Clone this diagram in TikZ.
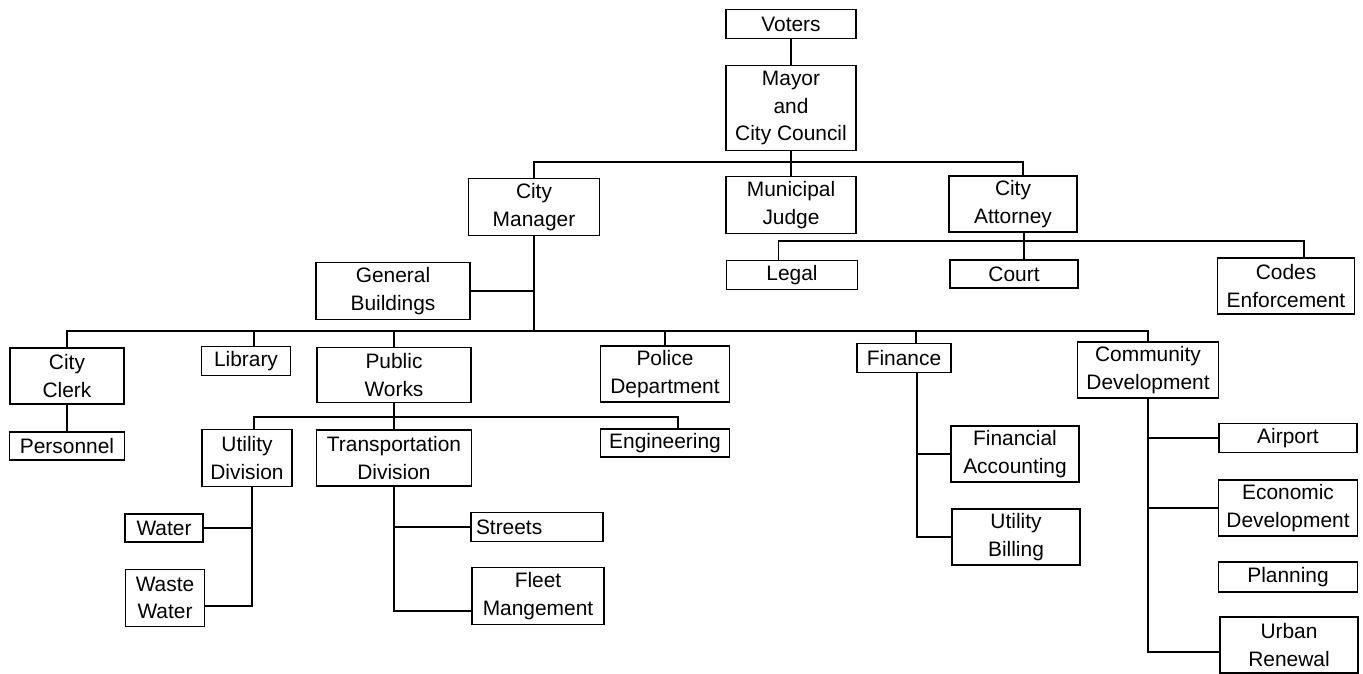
\documentclass[tikz,border=0pt]{standalone}
\usepackage{fontspec}
\setmainfont{Liberation Sans}
\tikzset{
  box/.style 2 args={draw, line width=0.9pt, inner sep=0pt, align=center,
    minimum width=#1*0.2mm, minimum height=#2*0.2mm,
    font=\fontsize{11.9}{15.5}\selectfont},
  link/.style={line width=0.9pt}
}
\begin{document}
\begin{tikzpicture}[x=0.2mm,y=-0.2mm]
\useasboundingbox (0,0) rectangle (1363,674);
\node[box={130}{29}] (voters) at (791,24) {Voters};
\node[box={130}{85}] (mayor) at (791,108) {Mayor\\and\\City Council};
\node[box={131}{57}] (manager) at (534,207) {City\\Manager};
\node[box={130}{57}] (judge) at (791,205) {Municipal\\Judge};
\node[box={128}{56}] (attorney) at (1013,204) {City\\Attorney};
\node[box={131}{29}] (legal) at (792,275) {Legal};
\node[box={128}{28}] (court) at (1014,274) {Court};
\node[box={137}{56}] (codes) at (1286,286) {Codes\\Enforcement};
\node[box={154}{57}] (general) at (393,291) {General\\Buildings};
\node[box={114}{56}] (clerk) at (67,376) {City\\Clerk};
\node[box={89}{29}] (library) at (246,361) {Library};
\node[box={154}{55}] (works) at (394,375) {Public\\Works};
\node[box={129}{56}] (police) at (665,374) {Police\\Department};
\node[box={94}{29}] (finance) at (904,358) {Finance};
\node[box={141}{56}] (community) at (1148,370) {Community\\Development};
\node[box={115}{28}] (personnel) at (67,446) {Personnel};
\node[box={90}{57}] (utility) at (247,458) {Utility\\Division};
\node[box={155}{56}] (transport) at (394,458) {Transportation\\Division};
\node[box={129}{28}] (engineering) at (665,443) {Engineering};
\node[box={78}{28}] (water) at (164,528) {Water};
\node[box={79}{57}] (waste) at (165,598) {Waste\\Water};
\node[box={132}{29}, text width=24.4mm, align=left] (streets) at (537,527) {Streets};
\node[box={132}{57}] (fleet) at (538,596) {Fleet\\Mangement};
\node[box={128}{56}] (accounting) at (1015,454) {Financial\\Accounting};
\node[box={128}{56}] (billing) at (1016,537) {Utility\\Billing};
\node[box={138}{29}] (airport) at (1288,438) {Airport};
\node[box={139}{56}] (economic) at (1288,508) {Economic\\Development};
\node[box={139}{30}] (planning) at (1288,577) {Planning};
\node[box={138}{56}] (urban) at (1289,645) {Urban\\Renewal};
\coordinate (topbar) at (791,162);
\coordinate (abar) at (1024,241);
\coordinate (mbar) at (534,331);
\coordinate (wbar) at (394,417);
\coordinate (uspine) at ([xshift=1mm]utility.south);
\coordinate (fspine) at ([xshift=2.6mm]finance.south);
\draw[link] (voters) -- (mayor);
\draw[link] (mayor) -- (judge);
\draw[link] (manager.north) |- (topbar) -| ([xshift=2mm]attorney.north);
\draw[link] ([xshift=2.2mm]attorney.south) -- ([xshift=2.2mm]attorney.south |- court.north);
\draw[link] ([xshift=-2.7mm]legal.north) |- (abar) -| ([xshift=3.6mm]codes.north);
\draw[link] (manager) -- (mbar);
\draw[link] (general.east) -- (general.east -| mbar);
\draw[link] (clerk.north) |- (mbar) -| (community.north);
\draw[link] ([xshift=1.6mm]library.north) -- ([xshift=1.6mm]library.north |- mbar);
\draw[link] (works.north) -- (works.north |- mbar);
\draw[link] (police.north) -- (police.north |- mbar);
\draw[link] ([xshift=2.4mm]finance.north) -- ([xshift=2.4mm]finance.north |- mbar);
\draw[link] (clerk) -- (personnel);
\draw[link] (works) -- (transport);
\draw[link] ([xshift=1.4mm]utility.north) |- (wbar) -| ([xshift=2.6mm]engineering.north);
\draw[link] (uspine) |- ([yshift=-1.6mm]waste.east);
\draw[link] (water.east) -- (water.east -| uspine);
\draw[link] (transport.south) |- ([yshift=-3mm]fleet.west);
\draw[link] (streets.west) -- (streets.west -| transport.south);
\draw[link] (fspine) |- (billing.west);
\draw[link] (accounting.west) -- (accounting.west -| fspine);
\draw[link] (community.south) |- ([yshift=-1.4mm]urban.west);
\draw[link] (airport.west) -- (airport.west -| community.south);
\draw[link] (economic.west) -- (economic.west -| community.south);
\end{tikzpicture}
\end{document}
